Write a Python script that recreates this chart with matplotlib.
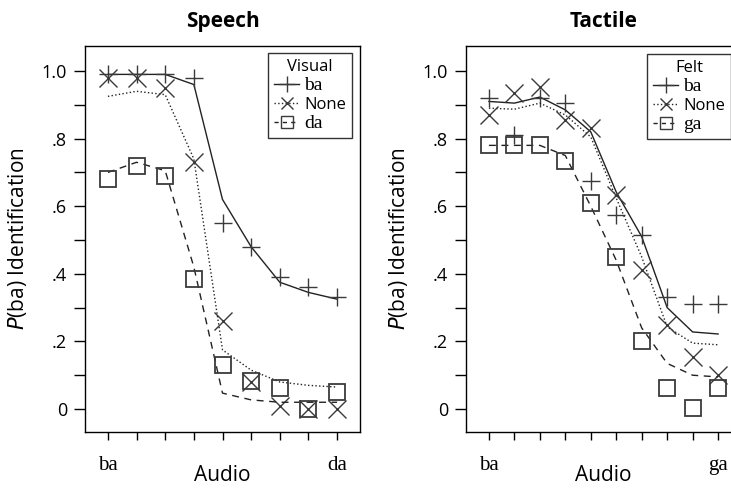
import numpy as np
import matplotlib
matplotlib.use('Agg')
from matplotlib import pyplot as plt
from matplotlib.lines import Line2D

# Speech panel (9 audio steps ba..da)
speech_x = np.arange(9)
visual_ba_obs = [0.99, 0.99, 0.99, 0.98, 0.55, 0.48, 0.39, 0.36, 0.33]
visual_ba_fit = [0.99, 0.99, 0.99, 0.96, 0.62, 0.48, 0.375, 0.345, 0.325]
visual_none_obs = [0.98, 0.98, 0.95, 0.73, 0.26, 0.08, 0.01, 0.0, 0.0]
visual_none_fit = [0.925, 0.94, 0.93, 0.74, 0.175, 0.115, 0.08, 0.07, 0.065]
visual_da_obs = [0.68, 0.72, 0.69, 0.385, 0.13, 0.083, 0.062, 0.0, 0.05]
visual_da_fit = [0.70, 0.73, 0.705, 0.42, 0.047, 0.027, 0.02, 0.02, 0.02]

# Tactile panel (10 audio steps ba..ga)
tactile_x = np.arange(10)
felt_ba_obs = [0.92, 0.81, 0.92, 0.905, 0.675, 0.575, 0.515, 0.33, 0.31, 0.31]
felt_ba_fit = [0.91, 0.905, 0.923, 0.885, 0.82, 0.642, 0.51, 0.30, 0.228, 0.222]
felt_none_obs = [0.87, 0.935, 0.953, 0.855, 0.83, 0.633, 0.41, 0.25, 0.153, 0.10]
felt_none_fit = [0.89, 0.887, 0.905, 0.87, 0.805, 0.624, 0.45, 0.243, 0.195, 0.19]
felt_ga_obs = [0.78, 0.78, 0.78, 0.735, 0.61, 0.45, 0.20, 0.062, 0.003, 0.062]
felt_ga_fit = [0.78, 0.78, 0.78, 0.75, 0.60, 0.44, 0.24, 0.135, 0.10, 0.095]

y_ticks = np.round(np.arange(0, 1.01, 0.1), 1)
y_labels = ['0', '', '.2', '', '.4', '', '.6', '', '.8', '', '1.0']

SANS = 'Open Sans'
SERIF = 'Liberation Serif'
mcol = '#3a3a3a'
W, H = 731, 488

fig = plt.figure(figsize=(W / 100, H / 100), dpi=100)
ax1 = fig.add_axes([85 / W, 1 - 432 / H, 275 / W, 386 / H])
ax2 = fig.add_axes([466 / W, 1 - 432 / H, 275 / W, 386 / H])


def draw_panel(ax, x, series, title, leg_title, labels, xlabels, xlim, leg_anchor):
    styles = ['-', ':', (0, (5, 4))]
    markers = ['+', 'x', 's']
    for (obs, fit), ls, mk in zip(series, styles, markers):
        ax.plot(x, fit, color='#222222', lw=1.0, ls=ls)
        if mk == 's':
            ax.plot(x, obs, ls='none', marker='s', ms=11, mfc='none', mec=mcol, mew=1.3)
        else:
            ax.plot(x, obs, ls='none', marker=mk, ms=13, mec=mcol, mew=1.0)
    ax.set_xlim(*xlim)
    ax.set_ylim(-0.068, 1.074)
    ax.set_yticks(y_ticks)
    ax.set_yticklabels(y_labels, family=SANS, fontsize=13)
    ax.set_xticks(x)
    ax.set_xticklabels(xlabels, family=SERIF, fontsize=15)
    ax.tick_params(axis='y', length=8, width=1, pad=5)
    ax.tick_params(axis='x', length=6, width=1, pad=11)
    for s in ax.spines.values():
        s.set_linewidth(1.0)
    ax.set_title(title, fontsize=15, fontweight='bold', family=SANS, pad=14)
    ax.set_xlabel('Audio', family=SANS, fontsize=15, labelpad=-7)
    ax.set_ylabel(r'$\mathit{P}$(ba) Identification', family=SANS, fontsize=15, labelpad=9)

    handles = [
        Line2D([], [], color='#222222', lw=1.0, ls='-', marker='+', ms=11, mec=mcol),
        Line2D([], [], color='#222222', lw=1.0, ls=':', marker='x', ms=9, mec=mcol),
        Line2D([], [], color='#222222', lw=1.0, ls=(0, (3, 3)), marker='s', ms=8, mfc='none', mec=mcol),
    ]
    leg = ax.legend(handles, labels, title=leg_title, loc='upper right',
                    bbox_to_anchor=leg_anchor, bbox_transform=fig.transFigure,
                    fontsize=12, title_fontsize=12, frameon=True, fancybox=False,
                    handlelength=1.5, handletextpad=0.3, borderpad=0.35,
                    labelspacing=0.15, borderaxespad=0)
    leg.get_frame().set_edgecolor('black')
    leg.get_frame().set_linewidth(1.0)
    leg.get_title().set_family(SANS)
    for t in leg.get_texts():
        if t.get_text() == 'None':
            t.set_family(SANS)
        else:
            t.set_family(SERIF)
            t.set_fontsize(14)
    return leg


draw_panel(ax1, speech_x,
           [(visual_ba_obs, visual_ba_fit), (visual_none_obs, visual_none_fit), (visual_da_obs, visual_da_fit)],
           'Speech', 'Visual', ['ba', 'None', 'da'],
           ['ba', '', '', '', '', '', '', '', 'da'], (-0.8, 8.8),
           (352 / W, 1 - 53 / H))

draw_panel(ax2, tactile_x,
           [(felt_ba_obs, felt_ba_fit), (felt_none_obs, felt_none_fit), (felt_ga_obs, felt_ga_fit)],
           'Tactile', 'Felt', ['ba', 'None', 'ga'],
           ['ba', '', '', '', '', '', '', '', '', 'ga'], (-0.9, 9.9),
           (731 / W, 1 - 54 / H))

fig.savefig('out.png', dpi=100)
